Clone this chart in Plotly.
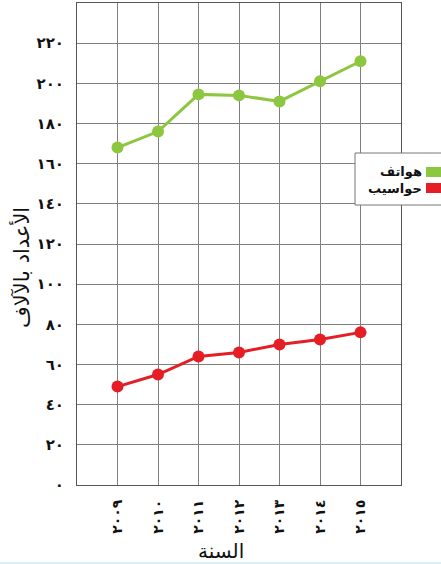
import plotly.graph_objects as go

# Years (category order) and their Eastern Arabic labels
years = [2009, 2010, 2011, 2012, 2013, 2014, 2015]
year_labels = ["٢٠٠٩", "٢٠١٠", "٢٠١١", "٢٠١٢", "٢٠١٣", "٢٠١٤", "٢٠١٥"]

# Values in thousands
phones = [168, 176, 194.5, 194, 191, 201, 211]
computers = [49, 55, 64, 66, 70, 72.5, 76]

series_names = ["هواتف", "حواسيب"]
series_colors = ["#8dc63f", "#e51e25"]

y_ticks = list(range(0, 241, 20))
y_tick_labels = ["٠", "٢٠", "٤٠", "٦٠", "٨٠", "١٠٠", "١٢٠", "١٤٠",
                 "١٦٠", "١٨٠", "٢٠٠", "٢٢٠", ""]

W, H = 441, 564
L, R, T, B = 77, 401, 3, 485  # plot area in pixels


def px_x(p):
    return (p - L) / (R - L)


def px_y(p):
    return (B - p) / (B - T)


def bold(s):
    return f"<b>{s}</b>" if s else ""


xpos = list(range(len(years)))

fig = go.Figure()
for vals, name, col in zip([phones, computers], series_names, series_colors):
    fig.add_trace(go.Scatter(
        x=xpos, y=vals, name=name, mode="lines+markers",
        line=dict(color=col, width=3),
        marker=dict(color=col, size=12),
        showlegend=False,
    ))

grid_col = "#808080"
fig.update_xaxes(
    range=[-1, len(years)],
    tickvals=list(range(-1, len(years) + 1)),
    ticktext=[""] + [bold(t) for t in year_labels] + [""],
    tickangle=-90,
    showgrid=True, gridcolor=grid_col, gridwidth=1,
    showline=True, linecolor="#555555", linewidth=1, mirror=True,
    zeroline=False,
    ticks="", ticklabelstandoff=8,
    tickfont=dict(family="DejaVu Sans", size=14, color="#111111"),
)
fig.update_yaxes(
    range=[0, 240],
    tickvals=y_ticks,
    ticktext=[bold(t) for t in y_tick_labels],
    showgrid=True, gridcolor=grid_col, gridwidth=1,
    showline=True, linecolor="#555555", linewidth=1, mirror=True,
    zeroline=False,
    ticks="", ticklabelstandoff=9,
    tickfont=dict(family="DejaVu Sans", size=15, color="#111111"),
)

shapes = []
annotations = []

# Legend box with swatches to the right of the labels
shapes.append(dict(type="rect", xref="paper", yref="paper",
                   x0=px_x(355), x1=px_x(445), y0=px_y(205), y1=px_y(153),
                   fillcolor="white", line=dict(color="#777777", width=1),
                   layer="above"))
for i, (name, col) in enumerate(zip(series_names, series_colors)):
    top = 167 + i * 16
    shapes.append(dict(type="rect", xref="paper", yref="paper",
                       x0=px_x(426), x1=px_x(442), y0=px_y(top + 10), y1=px_y(top),
                       fillcolor=col, line=dict(width=0), layer="above"))
    annotations.append(dict(text=bold(name), xref="paper", yref="paper",
                            x=px_x(424), y=px_y(top + 4 + 2 * i), xanchor="right",
                            yanchor="middle", showarrow=False,
                            font=dict(family="DejaVu Sans", size=13, color="#111111")))

# Axis titles
annotations.append(dict(text="السنة", xref="paper", yref="paper",
                        x=px_x(221), y=px_y(551), xanchor="center", yanchor="middle",
                        showarrow=False,
                        font=dict(family="DejaVu Sans", size=20, color="#111111")))
annotations.append(dict(text="الأعداد بالآلاف", xref="paper", yref="paper",
                        x=px_x(21), y=px_y(268), xanchor="center", yanchor="middle",
                        textangle=-90, showarrow=False,
                        font=dict(family="DejaVu Sans", size=21, color="#111111")))

# Thin tinted strip along the bottom edge
shapes.append(dict(type="rect", xref="paper", yref="paper",
                   x0=px_x(0), x1=px_x(441), y0=px_y(564), y1=px_y(562),
                   fillcolor="#d6f1f8", line=dict(width=0)))

fig.update_layout(
    width=W, height=H,
    margin=dict(l=L, r=W - R, t=T, b=H - B),
    paper_bgcolor="white", plot_bgcolor="white",
    shapes=shapes, annotations=annotations,
    showlegend=False,
)

fig.write_html("out.html")
